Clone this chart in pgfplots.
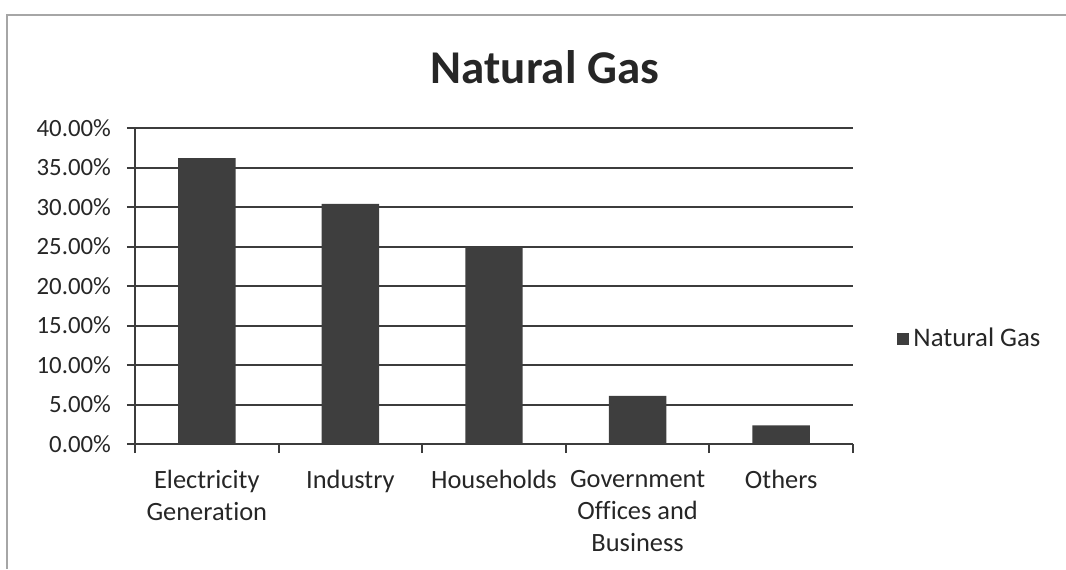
\documentclass[border=0pt]{standalone}
\usepackage{pgfplots}
\pgfplotsset{compat=1.18}
\usepackage{fontspec}
\setmainfont{Carlito}[Ligatures=NoCommon]
\definecolor{bargray}{RGB}{62,62,62}
\definecolor{gridgray}{RGB}{60,60,60}
\begin{document}
\begin{tikzpicture}
\path[use as bounding box] (0pt,0pt) rectangle (533pt,284.5pt);
\draw[gray!70, line width=1.2pt] (3.5pt,0pt) -- (3.5pt,277pt) -- (533pt,277pt);
\node[font=\fontsize{23.5}{28}\selectfont\bfseries, text=black!85] at (272.5pt,251pt) {Natural Gas};
\begin{axis}[
  at={(67.5pt,62.5pt)}, anchor=south west,
  width=359pt, height=158pt, scale only axis,
  xmin=-0.5, xmax=4.5, ymin=0, ymax=40,
  axis x line=bottom, axis y line=left,
  axis line style={-, gridgray, line width=1pt},
  ytick={0,5,...,40},
  ymajorgrids, grid style={gridgray, line width=1pt},
  yticklabel={\pgfmathprintnumber[fixed,fixed zerofill,precision=2]{\tick}\%},
  /pgf/number format/assume math mode=true,
  xtick={0,1,2,3,4},
  xticklabels={Electricity\\Generation, Industry, Households, Government\\Offices and\\Business, Others},
  x tick label style={align=center, font=\fontsize{13.2}{16}\selectfont, text=black!85, yshift=-5.5pt},
  y tick label style={font=\fontsize{12.4}{14}\selectfont, text=black!85, xshift=-4.5pt},
  major x tick style={draw=none},
  minor xtick={-0.5,0.5,...,4.5},
  minor x tick style={gridgray, line width=1pt},
  minor tick length=4.5pt,
  major tick length=4pt,
  tick align=outside,
  y tick style={gridgray, line width=1pt},
  ybar, bar width=0.4, bar shift=0pt,
  legend style={at={(1.053,0.332)}, anchor=west, draw=none, fill=none,
    font=\fontsize{13.4}{15}\selectfont, text=black!85},
  legend image code/.code={\fill[bargray] (0pt,-3pt) rectangle (6pt,3pt);},
]
\addplot[fill=bargray, draw=none] coordinates {(0,36.2) (1,30.4) (2,24.95) (3,6.1) (4,2.35)};
\addlegendentry{Natural Gas}
\end{axis}
\end{tikzpicture}
\end{document}
